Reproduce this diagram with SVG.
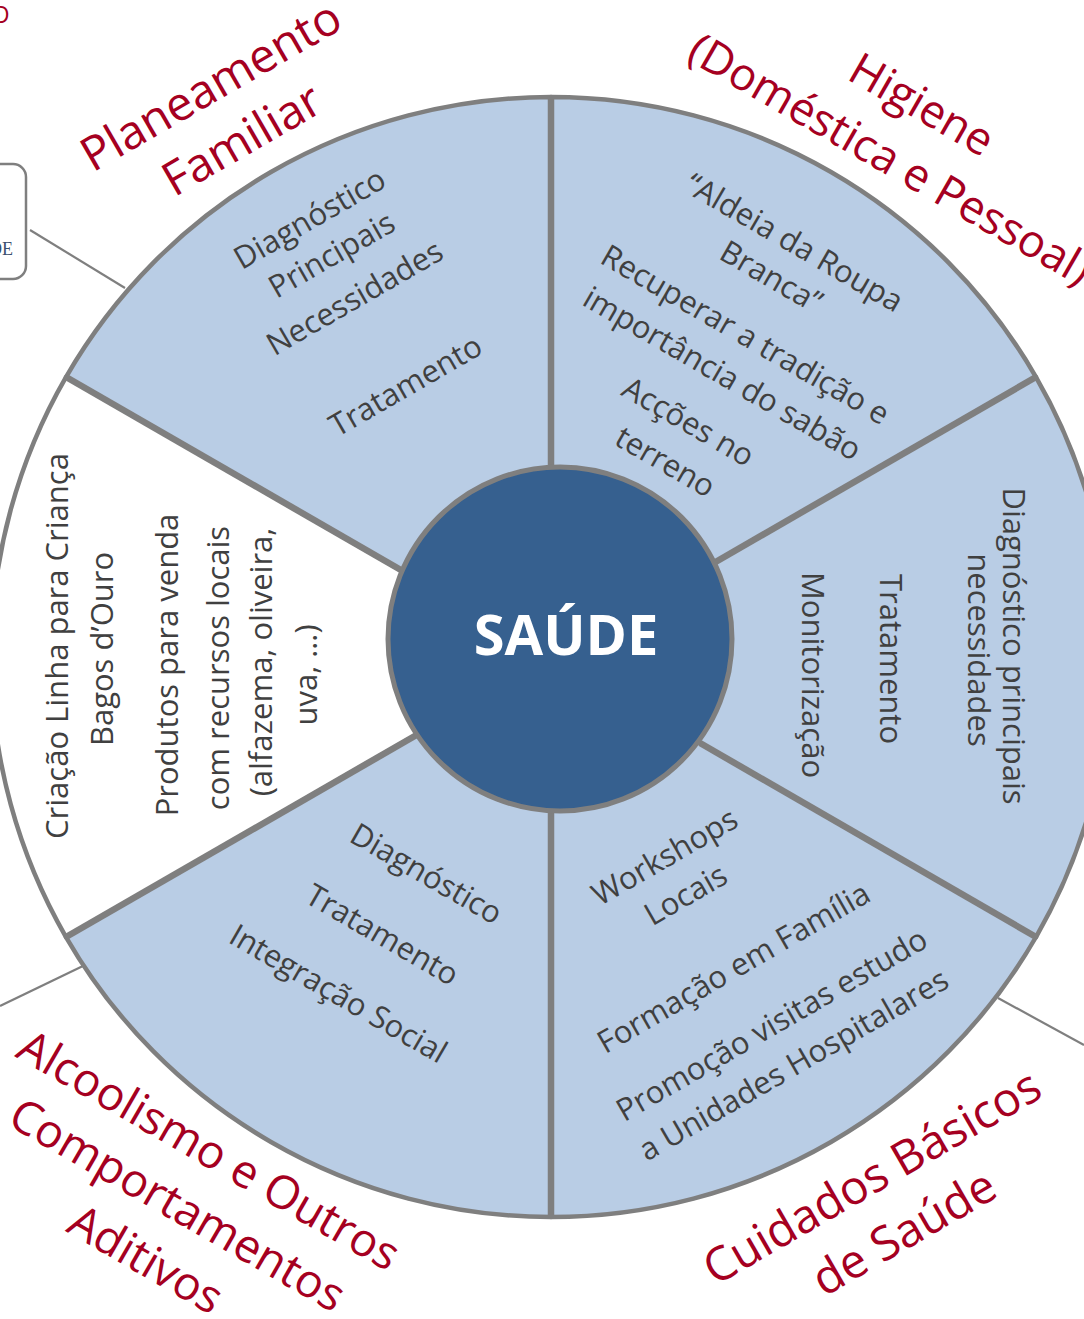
<svg xmlns="http://www.w3.org/2000/svg" width="1084" height="1319" viewBox="0 0 1084 1319">
<style>
.slice{fill:#B9CDE5;stroke:#7F7F7F;stroke-width:4.5;stroke-linejoin:round}
.white{fill:#FFFFFF}
.div{stroke:#7F7F7F;stroke-width:6.5;fill:none}
.conn{stroke:#7F7F7F;stroke-width:2.2;fill:none}
.t{font-family:"Open Sans","Noto Sans",sans-serif;font-size:31px;fill:#404040;text-anchor:middle}
.r{font-family:"Open Sans","Noto Sans",sans-serif;font-size:47px;fill:#A50021;text-anchor:middle}
.c{font-family:"Open Sans","Noto Sans",sans-serif;font-size:56px;font-weight:bold;fill:#FFFFFF;text-anchor:middle}
</style>
<rect width="1084" height="1319" fill="#FFFFFF"/>
<g id="fragments">
<text x="-9" y="23" style="font-family:'Open Sans',sans-serif;font-size:24px;fill:#A50021">O</text>
<rect x="-20" y="164" width="46" height="115" rx="13" fill="#FFFFFF" stroke="#7F7F7F" stroke-width="2.5"/>
<text x="13" y="255" style="font-family:'Liberation Serif',serif;font-size:18px;fill:#3A4F6E;text-anchor:end">DE</text>
</g>
<g id="connectors">
<line class="conn" x1="30" y1="230" x2="125" y2="288"/>
<line class="conn" x1="0" y1="1006" x2="85" y2="965"/>
<line class="conn" x1="998" y1="998" x2="1084" y2="1045"/>
</g>
<g id="planeamento">
<path class="slice" d="M551,657 L66,377 A560,560 0 0 1 551,97 Z"/>
<g transform="translate(219,100) rotate(-30)"><text class="r" x="0" y="0">Planeamento</text><text class="r" x="0" y="62">Familiar</text></g>
<text class="t" transform="translate(315,228) rotate(-30)">Diagnóstico</text>
<text class="t" transform="translate(337,264) rotate(-30)">Principais</text>
<text class="t" transform="translate(360,307) rotate(-30)">Necessidades</text>
<text class="t" transform="translate(411,395) rotate(-30)">Tratamento</text>
</g>
<g id="higiene">
<path class="slice" d="M551,657 L551,97 A560,560 0 0 1 1036,377 Z"/>
<g transform="translate(914,118) rotate(30)"><text class="r" x="0" y="0" style="font-size:45px">Higiene</text><text class="r" x="0" y="63" style="font-size:45px">(Doméstica e Pessoal)</text></g>
<text class="t" transform="translate(789,252) rotate(30)">“Aldeia da Roupa</text>
<text class="t" transform="translate(766,286) rotate(30)">Branca”</text>
<text class="t" transform="translate(740,344) rotate(30)">Recuperar a tradição e</text>
<text class="t" transform="translate(717,383) rotate(30)">importância do sabão</text>
<text class="t" transform="translate(683,431) rotate(30)">Acções no</text>
<text class="t" transform="translate(660,471) rotate(30)">terreno</text>
</g>
<g id="diagnostico">
<path class="slice" d="M551,657 L1036,377 A560,560 0 0 1 1036,937 Z"/>
<text class="t" transform="translate(1003,646) rotate(90)">Diagnóstico principais</text>
<text class="t" transform="translate(968,650) rotate(90)">necessidades</text>
<text class="t" transform="translate(880,659) rotate(90)">Tratamento</text>
<text class="t" transform="translate(802,675) rotate(90)">Monitorização</text>
</g>
<g id="cuidados">
<path class="slice" d="M551,657 L1036,937 A560,560 0 0 1 551,1217 Z"/>
<g transform="translate(880,1191) rotate(-30)"><text class="r" x="0" y="0">Cuidados Básicos</text><text class="r" x="0" y="64">de Saúde</text></g>
<text class="t" transform="translate(670,866) rotate(-30)">Workshops</text>
<text class="t" transform="translate(691,904) rotate(-30)">Locais</text>
<text class="t" transform="translate(739,977) rotate(-30)">Formação em Família</text>
<text class="t" transform="translate(777,1034) rotate(-30)">Promoção visitas estudo</text>
<text class="t" transform="translate(799,1074) rotate(-30)">a Unidades Hospitalares</text>
</g>
<g id="alcoolismo">
<path class="slice" d="M551,657 L551,1217 A560,560 0 0 1 66,937 Z"/>
<g transform="translate(201,1164) rotate(30)"><text class="r" x="0" y="0" style="font-size:46px">Alcoolismo e Outros</text><text class="r" x="0" y="63" style="font-size:46px">Comportamentos</text><text class="r" x="0" y="126" style="font-size:46px">Aditivos</text></g>
<text class="t" transform="translate(421,883) rotate(30)">Diagnóstico</text>
<text class="t" transform="translate(377,944) rotate(30)">Tratamento</text>
<text class="t" transform="translate(333,1003) rotate(30)">Integração Social</text>
</g>
<g id="produtos">
<path class="slice white" d="M551,657 L66,937 A560,560 0 0 1 66,377 Z"/>
<text class="t" transform="translate(68,646) rotate(-90)">Criação Linha para Criança</text>
<text class="t" transform="translate(113,649) rotate(-90)">Bagos d’Ouro</text>
<text class="t" transform="translate(178,665) rotate(-90)">Produtos para venda</text>
<text class="t" transform="translate(229,668) rotate(-90)">com recursos locais</text>
<text class="t" transform="translate(272,662) rotate(-90)">(alfazema, oliveira,</text>
<text class="t" transform="translate(317,675) rotate(-90)">uva, …)</text>
</g>
<g id="dividers">
<line class="div" x1="551" y1="97" x2="551" y2="470"/>
<line class="div" x1="1036" y1="377" x2="700" y2="571"/>
<line class="div" x1="1036" y1="937" x2="700" y2="743"/>
<line class="div" x1="551" y1="1217" x2="551" y2="800"/>
<line class="div" x1="66" y1="937" x2="420" y2="733"/>
<line class="div" x1="66" y1="377" x2="420" y2="581"/>
</g>
<g id="saude">
<circle cx="560" cy="639" r="172" fill="#36608F" stroke="#7F7F7F" stroke-width="5"/>
<text class="c" x="566" y="655">SAÚDE</text>
</g>
</svg>
